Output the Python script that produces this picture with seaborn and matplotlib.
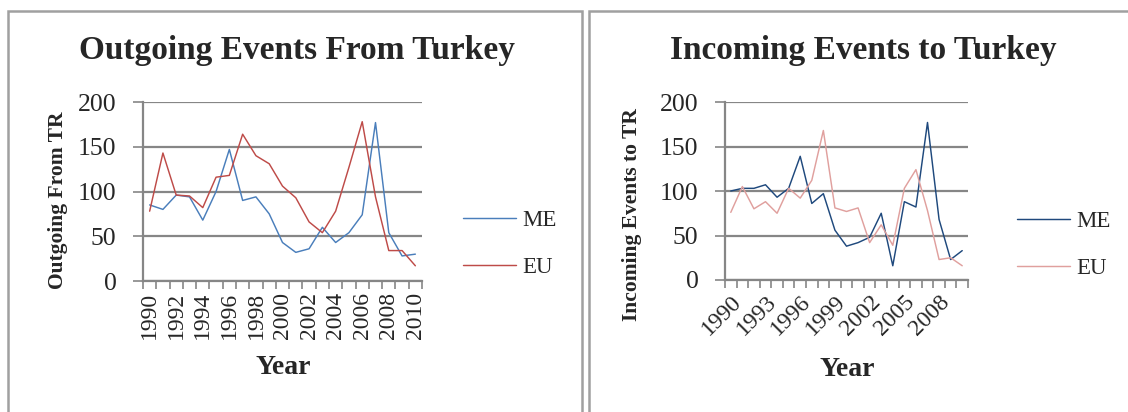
import matplotlib
matplotlib.use("Agg")
import matplotlib.pyplot as plt
from matplotlib.patches import Rectangle
import numpy as np
import pandas as pd
import seaborn as sns

# ---- data ----
years = list(range(1990, 2011))

outgoing_me = [85, 80, 96, 94, 68, 100, 147, 90, 94, 75, 43, 32, 36, 60, 43, 54, 74, 177, 54, 28, 30]
outgoing_eu = [78, 143, 96, 95, 82, 116, 118, 164, 140, 131, 106, 93, 66, 54, 78, 127, 178, 94, 34, 34, 17]

incoming_me = [100, 103, 103, 107, 93, 103, 139, 86, 97, 56, 38, 42, 48, 75, 16, 88, 82, 177, 68, 23, 33]
incoming_eu = [76, 105, 80, 88, 75, 103, 92, 112, 168, 81, 77, 81, 42, 62, 39, 103, 124, 78, 23, 25, 16]

series_names = ["ME", "EU"]
y_ticks = [0, 50, 100, 150, 200]

# ---- style ----
sns.set_style("white")
plt.rcParams["font.family"] = ["Liberation Serif", "DejaVu Serif"]

W, H = 1128, 412
fig = plt.figure(figsize=(W / 100, H / 100), dpi=100)

# panel frames
frame_color = "#a0a0a0"
for x0, x1 in [(8, 582), (589, 1140)]:
    fig.patches.append(Rectangle((x0 / W, 1 - 500 / H), (x1 - x0) / W, (500 - 11) / H,
                                 transform=fig.transFigure, fill=False,
                                 edgecolor=frame_color, linewidth=1.8, clip_on=False))

grid_color = "#868686"


def make_panel(rect, me, eu, colors, title, ylabel, label_step, rot, title_xy,
               ylabel_xy, year_xy, legend_xy):
    ax = fig.add_axes(rect)
    pos = np.arange(len(years))
    df = pd.DataFrame({"pos": np.concatenate([pos, pos]),
                       "val": me + eu,
                       "series": [series_names[0]] * len(me) + [series_names[1]] * len(eu)})
    sns.lineplot(data=df, x="pos", y="val", hue="series", palette=colors,
                 linewidth=1.05, ax=ax, legend=True)

    ax.set_xlim(-0.5, len(years) - 0.5)
    ax.set_ylim(0, 200)
    ax.set_yticks(y_ticks)
    ax.set_yticklabels([str(v) for v in y_ticks], fontsize=18.5)
    ax.yaxis.grid(True, color=grid_color, linewidth=1.6)
    ax.set_axisbelow(True)

    lab_pos = pos[::label_step]
    ax.set_xticks(lab_pos)
    if rot == 90:
        ax.set_xticklabels([str(years[i]) for i in lab_pos], rotation=90,
                           fontsize=17, va="top", ha="center")
    else:
        ax.set_xticklabels([str(years[i]) for i in lab_pos], rotation=45,
                           fontsize=17, ha="right", va="top",
                           rotation_mode="anchor")
    ax.set_xticks(np.arange(-0.5, len(years)), minor=True)
    ax.tick_params(axis="x", which="major", length=0, pad=8)
    ax.tick_params(axis="x", which="minor", length=6, width=1.2, color=grid_color,
                   direction="out", bottom=True)
    ax.tick_params(axis="y", which="major", length=7, width=1.2, color=grid_color,
                   direction="out", left=True, pad=12)

    for side in ["top", "right"]:
        ax.spines[side].set_visible(False)
    for side in ["left", "bottom"]:
        ax.spines[side].set_color(grid_color)
        ax.spines[side].set_linewidth(1.6)

    ax.set_xlabel("")
    ax.set_ylabel("")

    handles, labels = ax.get_legend_handles_labels()
    ax.get_legend().remove()
    fig.legend(handles, labels, loc="center left",
               bbox_to_anchor=(legend_xy[0] / W, 1 - legend_xy[1] / H),
               frameon=False, fontsize=16.5, handlelength=2.3, handletextpad=0.3,
               labelspacing=1.15, borderpad=0, borderaxespad=0)

    fig.text(title_xy[0] / W, 1 - title_xy[1] / H, title, ha="center", va="center",
             fontsize=24, fontweight="bold")
    fig.text(ylabel_xy[0] / W, 1 - ylabel_xy[1] / H, ylabel, ha="center", va="center",
             rotation=90, fontsize=15.5, fontweight="bold")
    fig.text(year_xy[0] / W, 1 - year_xy[1] / H, "Year", ha="center", va="center",
             fontsize=20, fontweight="bold")
    return ax


make_panel([143 / W, 1 - 281 / H, 279 / W, 179 / H], outgoing_me, outgoing_eu,
           ["#4a7ebb", "#be4b48"], "Outgoing Events From Turkey", "Outgoing From TR",
           2, 90, (297, 50), (58, 200), (283, 367), (463, 244))

make_panel([725 / W, 1 - 280 / H, 243 / W, 178 / H], incoming_me, incoming_eu,
           ["#1f497d", "#e0a09e"], "Incoming Events to Turkey", "Incoming Events to TR",
           3, 45, (863, 50), (632, 215), (847, 370), (1017, 245))

fig.savefig("out.png", dpi=100)
